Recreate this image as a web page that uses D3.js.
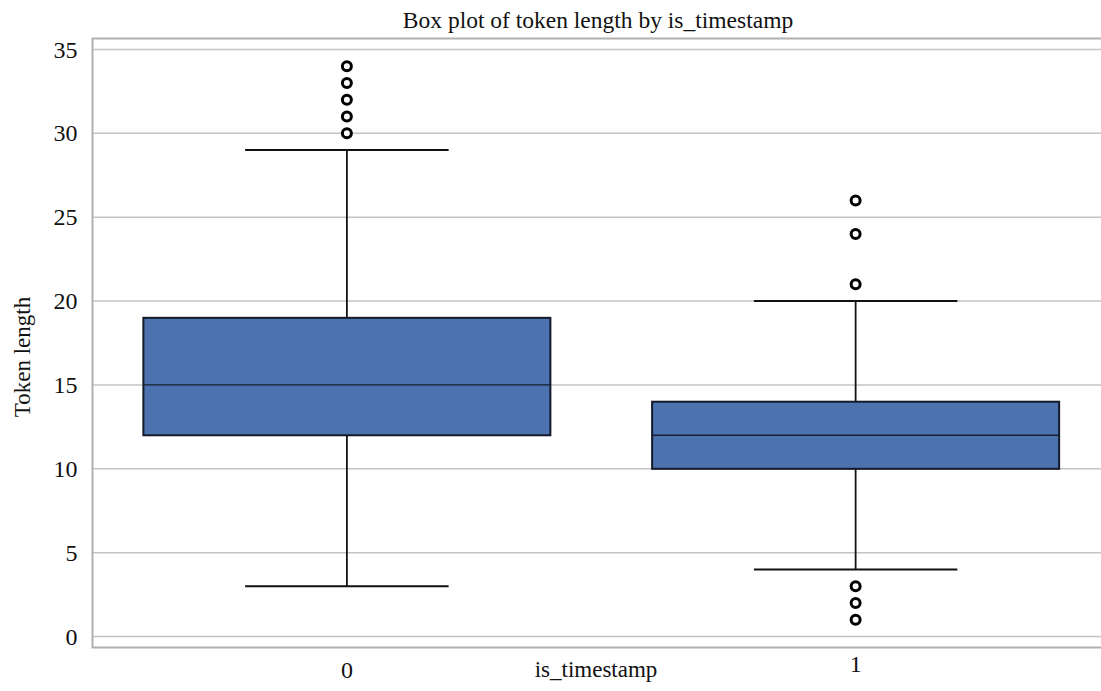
<!DOCTYPE html>
<html>
<head>
<meta charset="utf-8">
<script src="https://cdn.jsdelivr.net/npm/d3@7"></script>
<style>
  html, body { margin: 0; padding: 0; background: #fff; }
  svg { display: block; }
  text { font-family: "Liberation Serif", "Times New Roman", serif; fill: #111; }
</style>
</head>
<body>
<script>
// ---- data ----
const categories = ["0", "1"];
const q1Values = [12, 10];
const medianValues = [15, 12];
const q3Values = [19, 14];
const whiskerLow = [3, 4];
const whiskerHigh = [29, 20];
const outliers0 = [30, 31, 32, 33, 34];
const outliers1 = [21, 24, 26, 3, 2, 1];
const yTicks = [0, 5, 10, 15, 20, 25, 30, 35];
const titleText = "Box plot of token length by is_timestamp";
const xLabelText = "is_timestamp";
const yLabelText = "Token length";

const W = 1101, H = 691;
const plotLeft = 92.5, plotRight = 1110, plotTop = 38.5, plotBottom = 647.5;

const svg = d3.select("body").append("svg").attr("width", W).attr("height", H);

const x = d3.scaleBand().domain(categories).range([plotLeft, plotRight]).padding(0);
const y = d3.scaleLinear().domain([-0.65, 35.65]).range([plotBottom, plotTop]);

// grid lines
svg.append("g").selectAll("line").data(yTicks).join("line")
  .attr("x1", plotLeft).attr("x2", plotRight)
  .attr("y1", d => y(d)).attr("y2", d => y(d))
  .attr("stroke", "#c4c4c4").attr("stroke-width", 1.5);

// frame
svg.append("rect")
  .attr("x", plotLeft).attr("y", plotTop)
  .attr("width", plotRight - plotLeft).attr("height", plotBottom - plotTop)
  .attr("fill", "none").attr("stroke", "#b0b0b0").attr("stroke-width", 2);

// y axis labels
const yAxis = d3.axisLeft(y).tickValues(yTicks).tickSize(0).tickPadding(15);
const yg = svg.append("g").attr("transform", `translate(${plotLeft},0)`).call(yAxis);
yg.select(".domain").remove();
yg.selectAll("text").style("font-size", "24px").attr("fill", "#111")
  .style("font-family", '"Liberation Serif", serif');

// x tick labels (as seen in reference, slightly offset baselines)
const xBaselines = [678, 672];
svg.append("g").selectAll("text").data(categories).join("text")
  .attr("x", d => x(d) + x.bandwidth() / 2)
  .attr("y", (d, i) => xBaselines[i])
  .attr("text-anchor", "middle")
  .style("font-size", "24px")
  .text(d => d);

// boxes
const boxData = categories.map((c, i) => ({
  c, q1: q1Values[i], med: medianValues[i], q3: q3Values[i],
  lo: whiskerLow[i], hi: whiskerHigh[i],
  out: i === 0 ? outliers0 : outliers1
}));

const bw = x.bandwidth() * 0.8;
const capW = x.bandwidth() * 0.4;
const g = svg.append("g");

boxData.forEach(d => {
  const cx = x(d.c) + x.bandwidth() / 2;
  // whiskers
  g.append("line").attr("x1", cx).attr("x2", cx).attr("y1", y(d.q3)).attr("y2", y(d.hi))
    .attr("stroke", "#111").attr("stroke-width", 1.8);
  g.append("line").attr("x1", cx).attr("x2", cx).attr("y1", y(d.q1)).attr("y2", y(d.lo))
    .attr("stroke", "#111").attr("stroke-width", 1.8);
  g.append("line").attr("x1", cx - capW / 2).attr("x2", cx + capW / 2).attr("y1", y(d.hi)).attr("y2", y(d.hi))
    .attr("stroke", "#111").attr("stroke-width", 2);
  g.append("line").attr("x1", cx - capW / 2).attr("x2", cx + capW / 2).attr("y1", y(d.lo)).attr("y2", y(d.lo))
    .attr("stroke", "#111").attr("stroke-width", 2);
  // box
  g.append("rect").attr("x", cx - bw / 2).attr("y", y(d.q3))
    .attr("width", bw).attr("height", y(d.q1) - y(d.q3))
    .attr("fill", "#4c72b0").attr("stroke", "#141a2a").attr("stroke-width", 2);
  // median
  g.append("line").attr("x1", cx - bw / 2).attr("x2", cx + bw / 2).attr("y1", y(d.med)).attr("y2", y(d.med))
    .attr("stroke", "#1a1f2e").attr("stroke-width", 1.3);
  // outliers
  g.selectAll(null).data(d.out).join("circle")
    .attr("cx", cx).attr("cy", v => y(v)).attr("r", 4.5)
    .attr("fill", "#fff").attr("stroke", "#000").attr("stroke-width", 3);
});

// title
svg.append("text").attr("x", 598).attr("y", 28).attr("text-anchor", "middle")
  .style("font-size", "23.5px").text(titleText);

// x label
svg.append("text").attr("x", 596).attr("y", 677).attr("text-anchor", "middle")
  .style("font-size", "23px").text(xLabelText);

// y label
svg.append("text").attr("transform", "translate(30,357) rotate(-90)")
  .attr("text-anchor", "middle").style("font-size", "23px").text(yLabelText);
</script>
</body>
</html>
